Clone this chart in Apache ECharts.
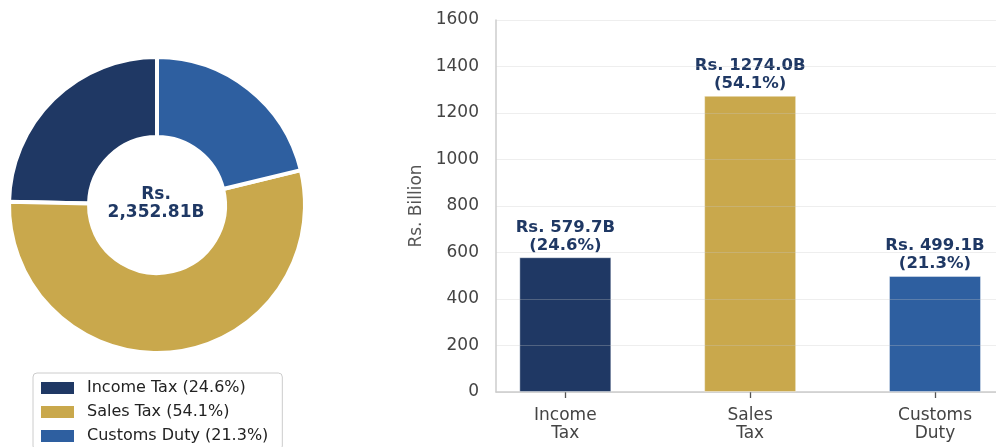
<!DOCTYPE html>
<html>
<head>
<meta charset="utf-8">
<script src="https://cdn.jsdelivr.net/npm/echarts@6/dist/echarts.min.js"></script>
<style>html,body{margin:0;padding:0;background:#fff}#c{width:996px;height:447px}</style>
</head>
<body>
<div id="c"></div>
<script>
const categories = ['Income Tax', 'Sales Tax', 'Customs Duty'];
const axisLabels = ['Income\nTax', 'Sales\nTax', 'Customs\nDuty'];
const values = [579.7, 1274.0, 499.1];
const percents = [24.6, 54.1, 21.3];
const totalText = '2,352.81';
const colors = ['#1F3864', '#C9A84C', '#2E5FA0'];
const yTicks = [0, 200, 400, 600, 800, 1000, 1200, 1400, 1600];

const FONT = 'DejaVu Sans';
const chart = echarts.init(document.getElementById('c'));

const pieData = categories.map((c, i) => ({
  name: `${c} (${percents[i]}%)`,
  value: values[i],
  itemStyle: { color: colors[i] }
}));
const barData = categories.map((c, i) => ({
  value: [i, values[i]],
  itemStyle: { color: colors[i] }
}));

chart.setOption({
  animation: false,
  textStyle: { fontFamily: FONT },
  title: {
    text: 'Rs.\n' + totalText + 'B',
    left: 156, top: 186, textAlign: 'center', padding: 0,
    textStyle: { fontFamily: FONT, fontSize: 17, fontWeight: 'bold', color: '#1F3864', lineHeight: 18 }
  },
  legend: {
    orient: 'vertical',
    left: 33, top: 373, height: 120,
    data: pieData.map(d => d.name),
    icon: 'rect',
    itemWidth: 35, itemHeight: 14, itemGap: 8,
    padding: [7, 14, 6, 6],
    borderColor: '#cccccc', borderWidth: 1, borderRadius: 4,
    selectedMode: false,
    textStyle: { fontFamily: FONT, fontSize: 16, color: '#222', padding: [0, 0, 0, 7], lineHeight: 16 }
  },
  grid: { left: 496, right: 0, top: 20, bottom: 55, containLabel: false },
  xAxis: {
    type: 'value',
    min: -0.375, max: 2.33,
    axisLine: { show: true, onZero: false, lineStyle: { color: '#cccccc', width: 1.5 } },
    axisTick: { show: true, customValues: [0, 1, 2], length: 6, lineStyle: { color: '#555', width: 1.3 } },
    axisLabel: {
      customValues: [0, 1, 2],
      formatter: v => axisLabels[Math.round(v)],
      fontFamily: FONT, fontSize: 17, color: '#444', lineHeight: 18, margin: 15
    },
    splitLine: { show: false }
  },
  yAxis: {
    type: 'value',
    min: yTicks[0], max: yTicks[yTicks.length - 1], interval: 200,
    z: 3,
    name: 'Rs. Billion', nameLocation: 'middle', nameGap: 71,
    nameTextStyle: { fontFamily: FONT, fontSize: 17, color: '#555' },
    axisLine: { show: true, onZero: false, lineStyle: { color: '#cccccc', width: 1.5 } },
    axisTick: { show: false },
    axisLabel: { fontFamily: FONT, fontSize: 17, color: '#444', margin: 17, formatter: v => String(v) },
    splitLine: { show: true, lineStyle: { color: 'rgba(200,200,200,0.3)', width: 1.2 } }
  },
  series: [
    {
      type: 'pie',
      center: [157, 205],
      radius: [68, 148],
      startAngle: 90,
      clockwise: false,
      label: { show: false },
      labelLine: { show: false },
      emphasis: { disabled: true },
      itemStyle: { borderColor: '#fff', borderWidth: 4 },
      data: pieData
    },
    {
      type: 'bar',
      z: 1,
      barWidth: 92,
      data: barData,
      emphasis: { disabled: true },
      itemStyle: { borderColor: 'rgba(255,255,255,0.4)', borderWidth: 1 },
      label: {
        show: true, position: 'top', distance: 3,
        formatter: p => `Rs. ${values[p.dataIndex].toFixed(1)}B\n(${percents[p.dataIndex]}%)`,
        fontFamily: FONT, fontSize: 16.5, fontWeight: 'bold', color: '#1F3864', lineHeight: 18
      }
    }
  ]
});
</script>
</body>
</html>
